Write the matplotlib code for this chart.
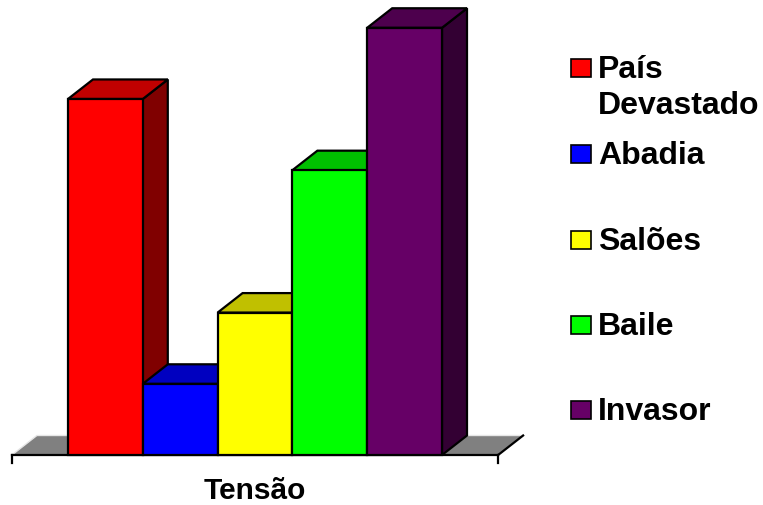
import matplotlib
matplotlib.use("Agg")
import matplotlib.pyplot as plt
from matplotlib.patches import Polygon, Rectangle

# dados -----------------------------------------------------------------
category = "Tensão"
labels = ["País\nDevastado", "Abadia", "Salões", "Baile", "Invasor"]
values = [5, 1, 2, 4, 6]
front_colors = ["#FF0000", "#0000FF", "#FFFF00", "#00FF00", "#660066"]
top_colors = ["#C00000", "#0000C0", "#C0C000", "#00C000", "#4D004D"]
side_colors = ["#800000", "#000080", "#808000", "#008000", "#330033"]

W, H = 763, 506
plt.rcParams["font.family"] = ["Liberation Sans", "DejaVu Sans"]
fig = plt.figure(figsize=(W / 100, H / 100), dpi=100)
ax = fig.add_axes([0, 0, 1, 1])
ax.set_xlim(-0.909, 9.291)
ax.set_ylim(-0.702, 6.404)
ax.axis("off")

dx, dy = 0.334, 0.274   # profundidade 3D
lw = 1.6

# chão
fl, fr = -0.75, 5.75
ax.add_patch(Polygon([(fl, 0), (fr, 0), (fr + dx, dy), (fl + dx, dy)],
                     closed=True, facecolor="#808080", edgecolor="none", zorder=1))
ax.plot([fl, fl + dx, fr + dx], [0, dy, dy], color="#E6E6E6", lw=1.0, zorder=2)
ax.plot([fr, fr + dx], [0, dy], color="black", lw=lw, zorder=2)

# eixo
ax.plot([fl, fr], [0, 0], color="black", lw=lw, zorder=2)
ax.plot([fl, fl], [0, -0.11], color="black", lw=lw, zorder=2)
ax.plot([fr, fr], [0, -0.11], color="black", lw=lw, zorder=2)

# barras
for i, v in enumerate(values):
    x0, x1 = i, i + 1
    z = 3 + i
    front = [(x0, 0), (x1, 0), (x1, v), (x0, v)]
    top = [(x0, v), (x1, v), (x1 + dx, v + dy), (x0 + dx, v + dy)]
    side = [(x1, 0), (x1 + dx, dy), (x1 + dx, v + dy), (x1, v)]
    for pts, c in [(side, side_colors[i]), (top, top_colors[i]), (front, front_colors[i])]:
        ax.add_patch(Polygon(pts, closed=True, facecolor=c, edgecolor="black",
                             lw=lw, joinstyle="miter", zorder=z))

ax.text(2.5, -0.604, category, ha="center", va="baseline",
        fontsize=21.5, fontweight="bold")

# legenda
ys = [78, 164, 250, 335, 420]
for lab, c, yb in zip(labels, front_colors, ys):
    fig.patches.append(Rectangle((571 / W, 1 - yb / H), 20 / W, 18 / H,
                                 transform=fig.transFigure, facecolor=c,
                                 edgecolor="black", lw=1.2))
    for k, line in enumerate(lab.split("\n")):
        fig.text(598 / W, 1 - (yb + 36 * k) / H, line, ha="left", va="baseline",
                 fontsize=23, fontweight="bold")

fig.savefig("out.png", dpi=100)
